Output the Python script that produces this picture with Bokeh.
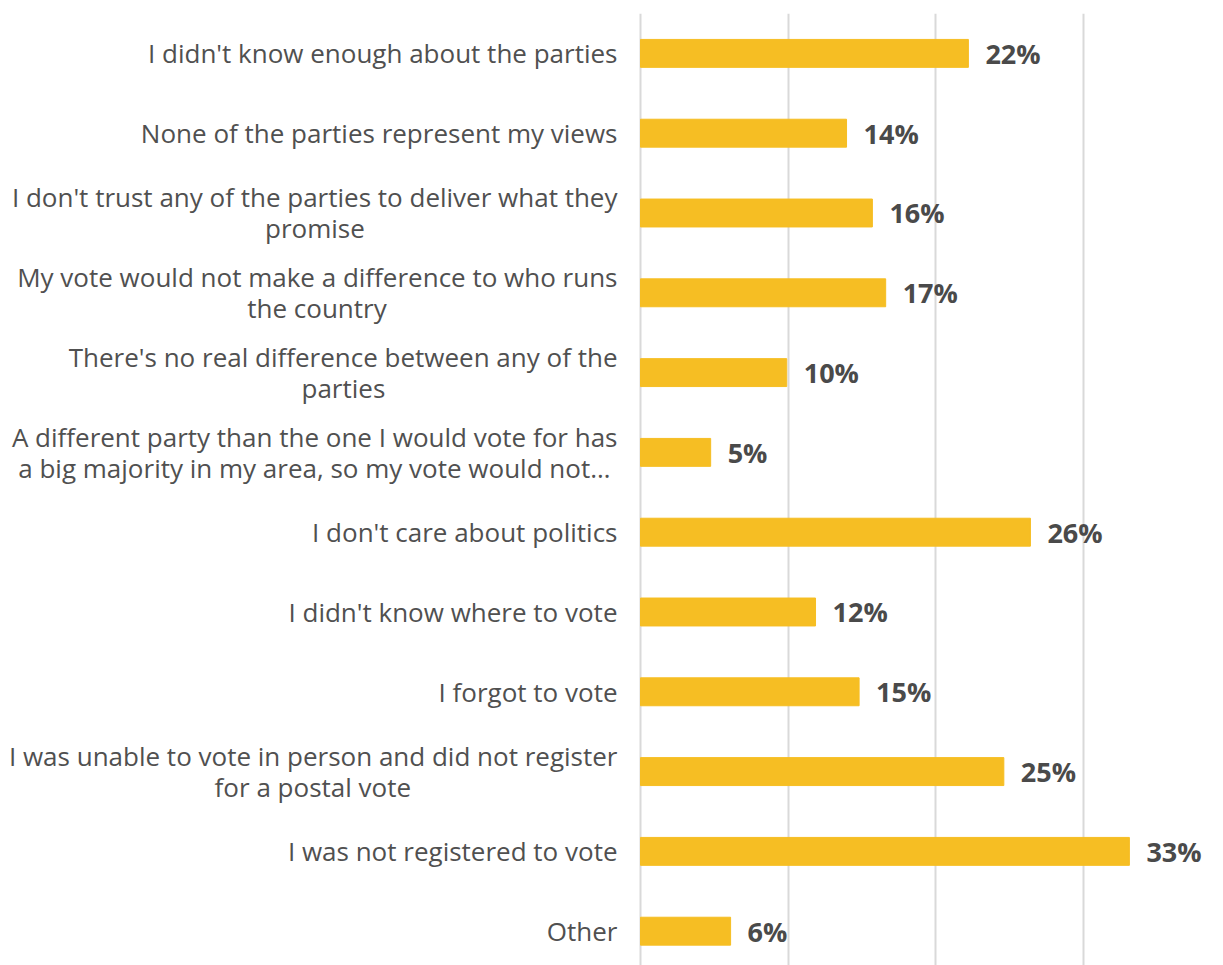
from bokeh.plotting import figure
from bokeh.models import Range1d, FixedTicker, ColumnDataSource, LabelSet
from bokeh.core.properties import value
from bokeh.embed import file_html
from bokeh.resources import INLINE

categories = [
    "I didn't know enough about the parties",
    "None of the parties represent my views",
    "I don't trust any of the parties to deliver what they\npromise",
    "My vote would not make a difference to who runs\nthe country",
    "There's no real difference between any of the\nparties",
    "A different party than the one I would vote for has\na big majority in my area, so my vote would not\u2026",
    "I don't care about politics",
    "I didn't know where to vote",
    "I forgot to vote",
    "I was unable to vote in person and did not register\nfor a postal vote",
    "I was not registered to vote",
    "Other",
]
values = [22.2, 13.95, 15.7, 16.6, 9.9, 4.75, 26.4, 11.85, 14.8, 24.6, 33.1, 6.1]
value_labels = ["22%", "14%", "16%", "17%", "10%", "5%", "26%", "12%", "15%", "25%", "33%", "6%"]
grid_ticks = [0, 10, 20, 30]

LABEL_FONT = "Open Sans"
LABEL_SIZE = 26
LINE_PX = 31
STANDOFF = 23
W, H = 1223, 965
AXIS_PX = 640          # pixel position of the 0 % line
PX_PER_UNIT = 14.77    # pixels per percentage point

# approximate Open Sans Regular advance widths (em) for centring wrapped labels
_W = {" ": .26, "a": .556, "b": .613, "c": .476, "d": .613, "e": .561, "f": .339,
      "g": .548, "h": .614, "i": .253, "j": .253, "k": .525, "l": .253, "m": .930,
      "n": .614, "o": .604, "p": .613, "q": .613, "r": .408, "s": .477, "t": .353,
      "u": .614, "v": .501, "w": .778, "x": .524, "y": .502, "z": .477, "'": .19,
      ",": .245, ".": .266, "I": .292, "A": .633, "M": .903, "N": .744, "O": .778,
      "T": .549, "\u2026": .80}


def text_width(s):
    return sum(_W.get(ch, .58) for ch in s) * LABEL_SIZE


ypos = list(range(len(categories)))
src = ColumnDataSource(dict(y=ypos, v=values, lab=value_labels))

right_lines = dict(y=[], t=[], xo=[], yo=[])
center_lines = dict(y=[], t=[], xo=[], yo=[])
for y, c in zip(ypos, categories):
    lines = c.split("\n")
    n = len(lines)
    widths = [text_width(s) for s in lines]
    wmax = max(widths)
    imax = widths.index(wmax)
    for k, (line, w) in enumerate(zip(lines, widths)):
        yo = ((n - 1) / 2 - k) * LINE_PX
        if k == imax:
            d = right_lines
            xo = -STANDOFF
        else:
            d = center_lines
            xo = -(STANDOFF + wmax / 2)
        d["y"].append(y)
        d["t"].append(line)
        d["xo"].append(xo)
        d["yo"].append(yo)

p = figure(width=W, height=H, output_backend="svg", toolbar_location=None,
           x_range=Range1d(-AXIS_PX / PX_PER_UNIT, (W - AXIS_PX) / PX_PER_UNIT),
           y_range=Range1d(11.43, -0.5),
           min_border_left=0, min_border_right=0, min_border_top=13, min_border_bottom=0)
p.outline_line_color = None
p.background_fill_color = "white"
p.border_fill_color = "white"
p.xaxis.visible = False
p.yaxis.visible = False

p.xgrid.ticker = FixedTicker(ticks=grid_ticks)
p.xgrid.grid_line_color = "#d9d9d9"
p.xgrid.grid_line_width = 2
p.ygrid.grid_line_color = None

p.hbar(y="y", left=0, right="v", height=0.35, source=src,
       fill_color="#F6BE23", line_color="#F6BE23", line_width=1)

p.add_layout(LabelSet(x="v", y="y", text="lab", source=src, x_offset=17,
                      text_baseline="middle", text_align="left",
                      text_font=value(LABEL_FONT), text_font_style="bold",
                      text_font_size="27px", text_color="#4a4a4a"))

for d, align in ((right_lines, "right"), (center_lines, "center")):
    p.add_layout(LabelSet(x=0, y="y", text="t", x_offset="xo", y_offset="yo",
                          source=ColumnDataSource(d),
                          text_baseline="middle", text_align=align,
                          text_font=value(LABEL_FONT), text_font_size=f"{LABEL_SIZE}px",
                          text_color="#505050"))

open("out.html", "w").write(file_html(p, INLINE))
